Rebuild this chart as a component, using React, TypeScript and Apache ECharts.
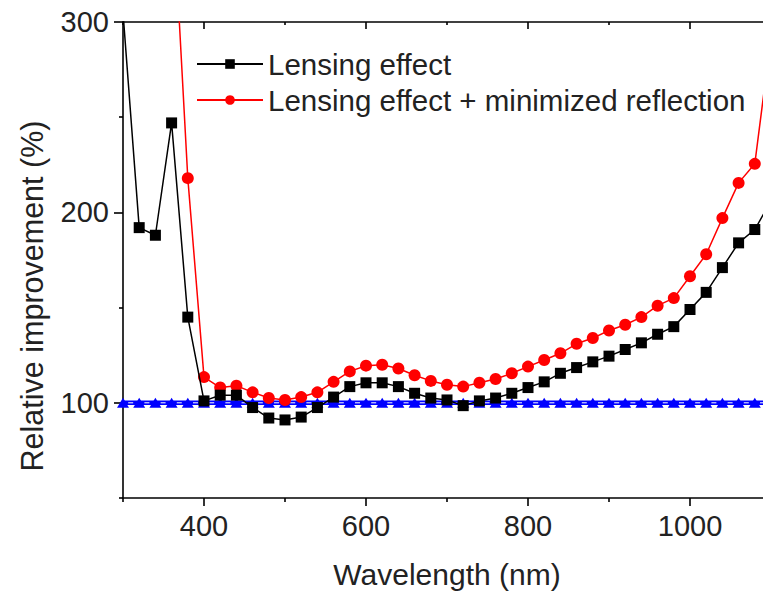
import React, { useEffect, useRef } from "react";
import * as echarts from "echarts";

const wavelengths = [
  300, 320, 340, 360, 380, 400, 420, 440, 460, 480, 500, 520, 540, 560, 580,
  600, 620, 640, 660, 680, 700, 720, 740, 760, 780, 800, 820, 840, 860, 880,
  900, 920, 940, 960, 980, 1000, 1020, 1040, 1060, 1080, 1100,
];

const lensing = [
  305, 192, 188, 247, 145, 101, 104, 104, 97.5, 92, 91, 92.5, 97.5, 103, 108.5,
  110.5, 110.5, 108.5, 105, 102.5, 101.5, 98.5, 101, 102.5, 105, 108, 111, 115.5, 118.5, 121.5,
  124.5, 128, 131.5, 136, 140, 149, 158, 171, 184, 191, 206,
];

const redWavelengths = [
  360, 380, 400, 420, 440, 460, 480, 500, 520, 540, 560, 580,
  600, 620, 640, 660, 680, 700, 720, 740, 760, 780, 800, 820, 840, 860, 880,
  900, 920, 940, 960, 980, 1000, 1020, 1040, 1060, 1080, 1100,
];

const lensingMinRefl = [
  375, 218, 113.5, 108, 109, 105.5, 102.5, 101.5, 103, 105.5, 111, 116.5,
  119.5, 120, 118, 114.5, 111.5, 109.5, 108.5, 110.5, 112.5, 115.5, 119, 122.5, 126, 131, 134,
  138, 141, 145, 151, 155, 166.5, 178, 197, 215.5, 225.5, 292,
];

const reference = [
  100, 100, 100, 100, 100, 100, 100, 100, 100, 100, 100, 100, 100, 100, 100,
  100, 100, 100, 100, 100, 100, 100, 100, 100, 100, 100, 100, 100, 100, 100,
  100, 100, 100, 100, 100, 100, 100, 100, 100, 100, 100,
];

const xMajorTicks = [400, 600, 800, 1000];
const xMinorTicks = [300, 500, 700, 900, 1100];
const yMajorTicks = [100, 200, 300];
const yMinorTicks = [50, 150, 250];

const seriesNames = ["Lensing effect", "Lensing effect + minimized reflection"];
const xTitle = "Wavelength (nm)";
const yTitle = "Relative improvement (%)";

const FONT = "'Liberation Sans', Arial, sans-serif";
const TXT = "#222";

export default function App() {
  const ref = useRef<HTMLDivElement>(null);
  useEffect(() => {
    if (!ref.current) return;
    const chart = echarts.init(ref.current, null, { renderer: "svg" });
    const axisLine = { show: true, lineStyle: { color: "#000", width: 1.6 } };
    const baseX = { type: "value", min: 300, max: 1100, splitLine: { show: false } };
    const baseY = { type: "value", min: 50, max: 300, splitLine: { show: false } };
    const pairs = (xs: number[], ys: number[]) => xs.map((x, i) => [x, ys[i]]);
    const plain = (v: number) => String(v);
    chart.setOption({
      animation: false,
      backgroundColor: "#fff",
      grid: { left: 123, top: 22, right: 29, bottom: 101, containLabel: false },
      legend: {
        data: seriesNames,
        orient: "vertical",
        left: 196,
        top: 49,
        padding: 0,
        itemWidth: 66,
        itemHeight: 12,
        itemGap: 6,
        textStyle: { fontFamily: FONT, fontSize: 29.5, color: TXT, lineHeight: 30 },
      },
      xAxis: [
        {
          ...baseX,
          position: "bottom",
          axisLine,
          axisTick: { show: true, customValues: xMajorTicks, length: 8, lineStyle: { color: "#000", width: 1.6 } },
          axisLabel: { show: true, customValues: xMajorTicks, formatter: plain, margin: 13, fontFamily: FONT, fontSize: 29, color: TXT },
          name: xTitle,
          nameLocation: "middle",
          nameGap: 61,
          nameTextStyle: { fontFamily: FONT, fontSize: 30, color: TXT },
        },
        {
          ...baseX,
          position: "bottom",
          axisLine: { show: false },
          axisTick: { show: true, customValues: xMinorTicks, length: 4, lineStyle: { color: "#000", width: 1.6 } },
          axisLabel: { show: false },
        },
        {
          ...baseX,
          position: "top",
          axisLine,
          axisTick: { show: true, inside: true, customValues: xMajorTicks, length: 7, lineStyle: { color: "#000", width: 1.6 } },
          axisLabel: { show: false },
        },
        {
          ...baseX,
          position: "top",
          axisLine: { show: false },
          axisTick: { show: true, inside: true, customValues: xMinorTicks, length: 3, lineStyle: { color: "#000", width: 1.6 } },
          axisLabel: { show: false },
        },
      ],
      yAxis: [
        {
          ...baseY,
          position: "left",
          axisLine,
          axisTick: { show: true, customValues: yMajorTicks, length: 9, lineStyle: { color: "#000", width: 1.6 } },
          axisLabel: { show: true, customValues: yMajorTicks, formatter: plain, margin: 14, fontFamily: FONT, fontSize: 29, color: TXT },
        },
        {
          ...baseY,
          position: "left",
          axisLine: { show: false },
          axisTick: { show: true, customValues: yMinorTicks, length: 4, lineStyle: { color: "#000", width: 1.6 } },
          axisLabel: { show: false },
        },
        {
          ...baseY,
          position: "right",
          axisLine,
          axisTick: { show: false },
          axisLabel: { show: false },
        },
      ],
      graphic: [
        {
          type: "text",
          x: 32,
          y: 296,
          rotation: Math.PI / 2,
          style: {
            text: yTitle,
            fontFamily: FONT,
            fontSize: 30.5,
            fill: TXT,
            align: "center",
            verticalAlign: "middle",
          },
        },
      ],
      series: [
        {
          name: "Reference",
          type: "line",
          data: pairs(wavelengths, reference),
          symbol: "triangle",
          symbolSize: [12, 10],
          itemStyle: { color: "#0000ff" },
          lineStyle: { color: "#0000ff", width: 4.5 },
          z: 1,
        },
        {
          name: "Reference dash",
          type: "line",
          data: pairs(wavelengths, reference),
          symbol: "none",
          lineStyle: { color: "#ffffff", width: 1, type: [5, 11.2], dashOffset: 10.6 },
          silent: true,
          z: 1.5,
        },
        {
          name: seriesNames[0],
          type: "line",
          data: pairs(wavelengths, lensing),
          symbol: "rect",
          symbolSize: 11,
          itemStyle: { color: "#000" },
          lineStyle: { color: "#000", width: 1.5 },
          z: 3,
        },
        {
          name: seriesNames[1],
          type: "line",
          data: pairs(redWavelengths, lensingMinRefl),
          symbol: "circle",
          symbolSize: 12,
          itemStyle: { color: "#ff0000" },
          lineStyle: { color: "#ff0000", width: 1.5 },
          z: 2,
        },
      ],
    });
    return () => chart.dispose();
  }, []);
  return (
    <div style={{ position: "fixed", left: 0, top: 0, width: 763, height: 599, overflow: "hidden", background: "#fff" }}>
      <div ref={ref} style={{ width: 800, height: 599 }} />
    </div>
  );
}
